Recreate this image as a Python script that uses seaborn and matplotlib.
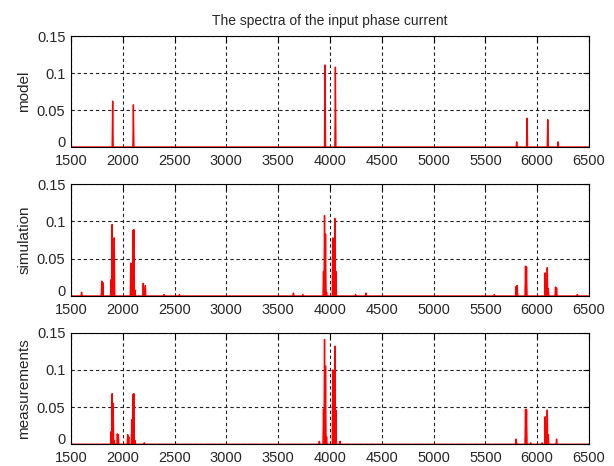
import numpy as np
import pandas as pd
import matplotlib
matplotlib.use('Agg')
import matplotlib.pyplot as plt
import seaborn as sns

# Spectrum samples (frequency in Hz, amplitude)
model_freq = [1900, 2100, 3950, 4050, 5800, 5900, 6100, 6200]
model_amp = [0.062, 0.057, 0.111, 0.108, 0.007, 0.039, 0.037, 0.007]

sim_freq = [1600, 1795, 1805, 1885, 1895, 1915, 2075, 2095, 2105, 2115,
            2195, 2215, 2395, 2545, 3645, 3735, 3935, 3945, 3955, 3965,
            4025, 4045, 4055, 4245, 4345, 5585, 5795, 5805, 5885, 5895,
            6075, 6095, 6105, 6175, 6185, 6385]
sim_amp = [0.005, 0.020, 0.018, 0.022, 0.096, 0.078, 0.044, 0.088, 0.089, 0.008,
           0.017, 0.014, 0.002, 0.002, 0.004, 0.002, 0.033, 0.108, 0.083, 0.005,
           0.078, 0.104, 0.033, 0.002, 0.004, 0.002, 0.013, 0.014, 0.040, 0.039,
           0.031, 0.038, 0.010, 0.012, 0.011, 0.002]

meas_freq = [1885, 1895, 1905, 1915, 1945, 1955, 2045, 2055, 2085, 2095,
             2105, 2115, 2205, 3895, 3935, 3945, 3955, 3965, 4025, 4045,
             4055, 4095, 5795, 5885, 5895, 5935, 6045, 6075, 6095, 6105,
             6185]
meas_amp = [0.017, 0.068, 0.055, 0.005, 0.014, 0.013, 0.013, 0.010, 0.033, 0.067,
            0.068, 0.005, 0.002, 0.004, 0.047, 0.141, 0.105, 0.010, 0.100, 0.132,
            0.046, 0.004, 0.007, 0.047, 0.047, 0.002, 0.002, 0.037, 0.046, 0.013,
            0.007]

panels = [('model', model_freq, model_amp),
          ('simulation', sim_freq, sim_amp),
          ('measurements', meas_freq, meas_amp)]

x_ticks = [1500, 2000, 2500, 3000, 3500, 4000, 4500, 5000, 5500, 6000, 6500]
y_ticks = [0, 0.05, 0.1, 0.15]
y_labels = ['0', '0.05', '0.1', '0.15']

sns.set_theme(style='white')
plt.rcParams['font.family'] = ['Liberation Sans', 'DejaVu Sans']

fig = plt.figure(figsize=(6.14, 4.66), dpi=100)
boxes = [[0.1156, 0.6845, 0.8436, 0.238],
         [0.1156, 0.3648, 0.8436, 0.240],
         [0.1156, 0.0466, 0.8436, 0.2395]]

for (name, freq, amp), box in zip(panels, boxes):
    ax = fig.add_axes(box)
    df = pd.DataFrame({'freq': freq, 'amp': amp})
    # poly outline of the weighted histogram = line spectrum with zero floor
    sns.histplot(data=df, x='freq', weights='amp', binwidth=5,
                 binrange=(1500, 6500), element='poly', fill=False,
                 color='red', linewidth=1.0, ax=ax)
    ax.set_xlim(1500, 6500)
    ax.set_ylim(0, 0.15)
    ax.set_xticks(x_ticks)
    ax.set_yticks(y_ticks)
    ax.set_yticklabels(y_labels)
    ax.set_xlabel('')
    ax.set_ylabel(name, fontsize=11, labelpad=4)
    ax.grid(True, color='#222222', linestyle=(0, (3, 2.5)), linewidth=0.8)
    ax.tick_params(direction='in', top=True, right=True, length=4,
                   width=0.8, labelsize=10.5, color='black')
    ax.tick_params(axis='x', pad=5)
    ax.tick_params(axis='y', pad=4)
    # lift the "0" label a touch so it clears the "1500" below
    ax.get_yticklabels()[0].set_va('baseline')
    for s in ax.spines.values():
        s.set_color('black')
        s.set_linewidth(0.8)
    if name == 'model':
        ax.set_title('The spectra of the input phase current', fontsize=10, pad=8)

fig.savefig('out.png', dpi=100)
